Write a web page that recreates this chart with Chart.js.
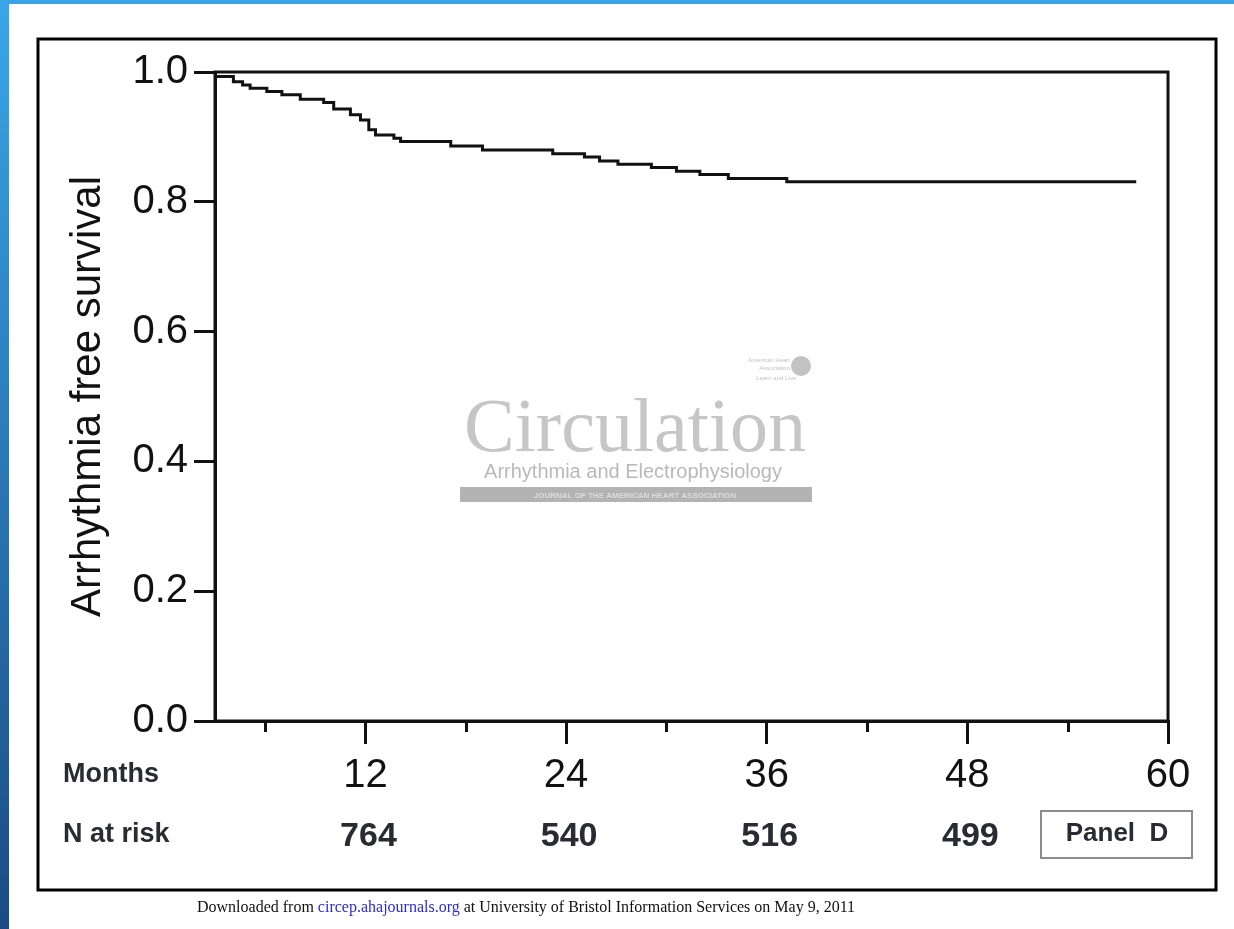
<!DOCTYPE html>
<html><head><meta charset="utf-8">
<script src="https://cdn.jsdelivr.net/npm/chart.js@4.4.1/dist/chart.umd.min.js"></script>
<style>
html,body{margin:0;padding:0;background:#fff;}
#wrap{position:relative;width:1234px;height:929px;overflow:hidden;background:#fff;}
#topbar{position:absolute;left:0;top:0;width:1234px;height:4px;background:#3aa4e6;}
#leftbar{position:absolute;left:0;top:0;width:9px;height:929px;background:linear-gradient(#3aa6e8,#1b4b82);}
canvas{position:absolute;left:0;top:0;}
</style></head><body>
<div id="wrap"><canvas id="c" width="1234" height="929" style="width:1234px;height:929px"></canvas><div id="topbar"></div><div id="leftbar"></div></div>
<script>
// ---- data ----
const months   = [3, 4.1, 4.65, 5.1, 6.1, 7.0, 8.1, 9.5, 10.1, 11.1, 11.7, 12.2, 12.6, 13.7, 14.1, 17.1, 19.0, 23.2, 25.1, 26.0, 27.1, 29.1, 30.6, 32.0, 33.7, 37.2, 58.1];
const survival = [0.993, 0.985, 0.980, 0.975, 0.970, 0.965, 0.958, 0.953, 0.943, 0.934, 0.926, 0.911, 0.903, 0.898, 0.893, 0.886, 0.880, 0.874, 0.869, 0.863, 0.858, 0.853, 0.847, 0.842, 0.836, 0.831, 0.831];
const yTickValues = [0, 0.2, 0.4, 0.6, 0.8, 1.0];
const xTickValues = [6, 12, 18, 24, 30, 36, 42, 48, 54, 60];
const riskMonths = [12, 24, 36, 48];
const nAtRisk = [764, 540, 516, 499];

const SANS = '"Liberation Sans", Arial, sans-serif';
const SERIF = '"Liberation Serif", "Times New Roman", serif';

const extras = {
  id: 'extras',
  beforeDatasetsDraw(chart) {
    const ctx = chart.ctx;
    ctx.save();
    // watermark
    ctx.fillStyle = '#c6c6c6';
    ctx.textAlign = 'center';
    ctx.textBaseline = 'alphabetic';
    ctx.font = '76px ' + SERIF;
    ctx.fillText('Circulation', 635, 451);
    ctx.font = '20px ' + SANS;
    ctx.fillStyle = '#b9b9b9';
    ctx.fillText('Arrhythmia and Electrophysiology', 633, 478);
    ctx.fillStyle = '#b3b3b3';
    ctx.fillRect(460, 487, 352, 15);
    ctx.fillStyle = '#dcdcdc';
    ctx.font = 'bold 8px ' + SANS;
    ctx.fillText('JOURNAL OF THE AMERICAN HEART ASSOCIATION', 635, 498);
    // small logo
    ctx.fillStyle = '#c2c2c2';
    ctx.beginPath(); ctx.arc(801, 366, 10, 0, Math.PI * 2); ctx.fill();
    ctx.textAlign = 'right';
    ctx.font = '6px ' + SANS;
    ctx.fillText('American Heart', 790, 362);
    ctx.fillText('Association', 790, 370);
    ctx.fillText('Learn and Live', 796, 380);
    ctx.restore();
  },
  afterDraw(chart) {
    const ctx = chart.ctx, a = chart.chartArea, x = chart.scales.x;
    ctx.save();
    // plot box
    ctx.strokeStyle = '#111'; ctx.lineWidth = 3;
    ctx.strokeRect(a.left, a.top, a.right - a.left, a.bottom - a.top);
    // minor ticks
    xTickValues.filter(v => v % 12 !== 0).forEach(v => {
      const px = Math.round(x.getPixelForValue(v)) + 0.5;
      ctx.beginPath(); ctx.moveTo(px, a.bottom); ctx.lineTo(px, a.bottom + 11); ctx.stroke();
    });
    // row labels
    ctx.fillStyle = '#2a2a33';
    ctx.textBaseline = 'middle';
    ctx.textAlign = 'left';
    ctx.font = 'bold 27px ' + SANS;
    ctx.fillText('Months', 63, 775);
    ctx.fillText('N at risk', 63, 835);
    // numbers at risk
    ctx.textAlign = 'center';
    ctx.font = 'bold 34px ' + SANS;
    riskMonths.forEach((m, i) => ctx.fillText(String(nAtRisk[i]), x.getPixelForValue(m) + 3, 837));
    // panel label
    ctx.strokeStyle = '#8c8c8c'; ctx.lineWidth = 2;
    ctx.strokeRect(1041, 811, 151, 47);
    ctx.font = 'bold 26px ' + SANS;
    ctx.fillText('Panel  D', 1117, 834);
    // outer frame
    ctx.strokeStyle = '#000'; ctx.lineWidth = 3;
    ctx.strokeRect(38, 39, 1178, 851);
    // footer
    ctx.font = '16px ' + SERIF;
    ctx.textAlign = 'left';
    const parts = [['Downloaded from ', '#111'], ['circep.ahajournals.org', '#2b2bd6'], [' at University of Bristol Information Services on May 9, 2011', '#111']];
    let fx = 197;
    parts.forEach(([t, c]) => { ctx.fillStyle = c; ctx.fillText(t, fx, 908); fx += ctx.measureText(t).width; });
    ctx.restore();
  }
};

new Chart(document.getElementById('c'), {
  type: 'line',
  data: {
    datasets: [{
      data: months.map((m, i) => ({ x: m, y: survival[i] })),
      stepped: true,
      borderColor: '#111',
      borderWidth: 3,
      pointRadius: 0,
      fill: false
    }]
  },
  options: {
    responsive: false,
    devicePixelRatio: 1,
    animation: false,
    events: [],
    layout: { padding: { left: 40, top: 72, right: 66, bottom: 128 } },
    plugins: { legend: { display: false }, tooltip: { enabled: false } },
    scales: {
      x: {
        type: 'linear', min: 3, max: 60,
        afterBuildTicks: s => { s.ticks = xTickValues.map(v => ({ value: v })); },
        afterFit: s => { s.height = 80; },
        ticks: {
          autoSkip: false, maxRotation: 0, padding: 8,
          color: '#111', font: { family: SANS, size: 40 },
          callback: v => (v % 12 === 0 ? String(v) : '')
        },
        grid: {
          drawOnChartArea: false, drawTicks: true, tickLength: 23, lineWidth: 3,
          tickColor: c => (c.tick && c.tick.value % 12 === 0 ? '#111' : 'rgba(0,0,0,0)')
        },
        border: { display: true, color: '#111', width: 3 }
      },
      y: {
        min: 0, max: 1,
        afterBuildTicks: s => { s.ticks = yTickValues.map(v => ({ value: v })); },
        afterFit: s => { s.width = 175; },
        ticks: { padding: 6, color: '#111', font: { family: SANS, size: 40 }, callback: v => v.toFixed(1) },
        grid: { drawOnChartArea: false, drawTicks: true, tickLength: 21, lineWidth: 3, tickColor: '#111' },
        border: { display: true, color: '#111', width: 3 },
        title: { display: true, text: 'Arrhythmia free survival', color: '#111', font: { family: SANS, size: 42 }, padding: { top: 23, bottom: 0 } }
      }
    }
  },
  plugins: [extras]
});
</script>
</body></html>
